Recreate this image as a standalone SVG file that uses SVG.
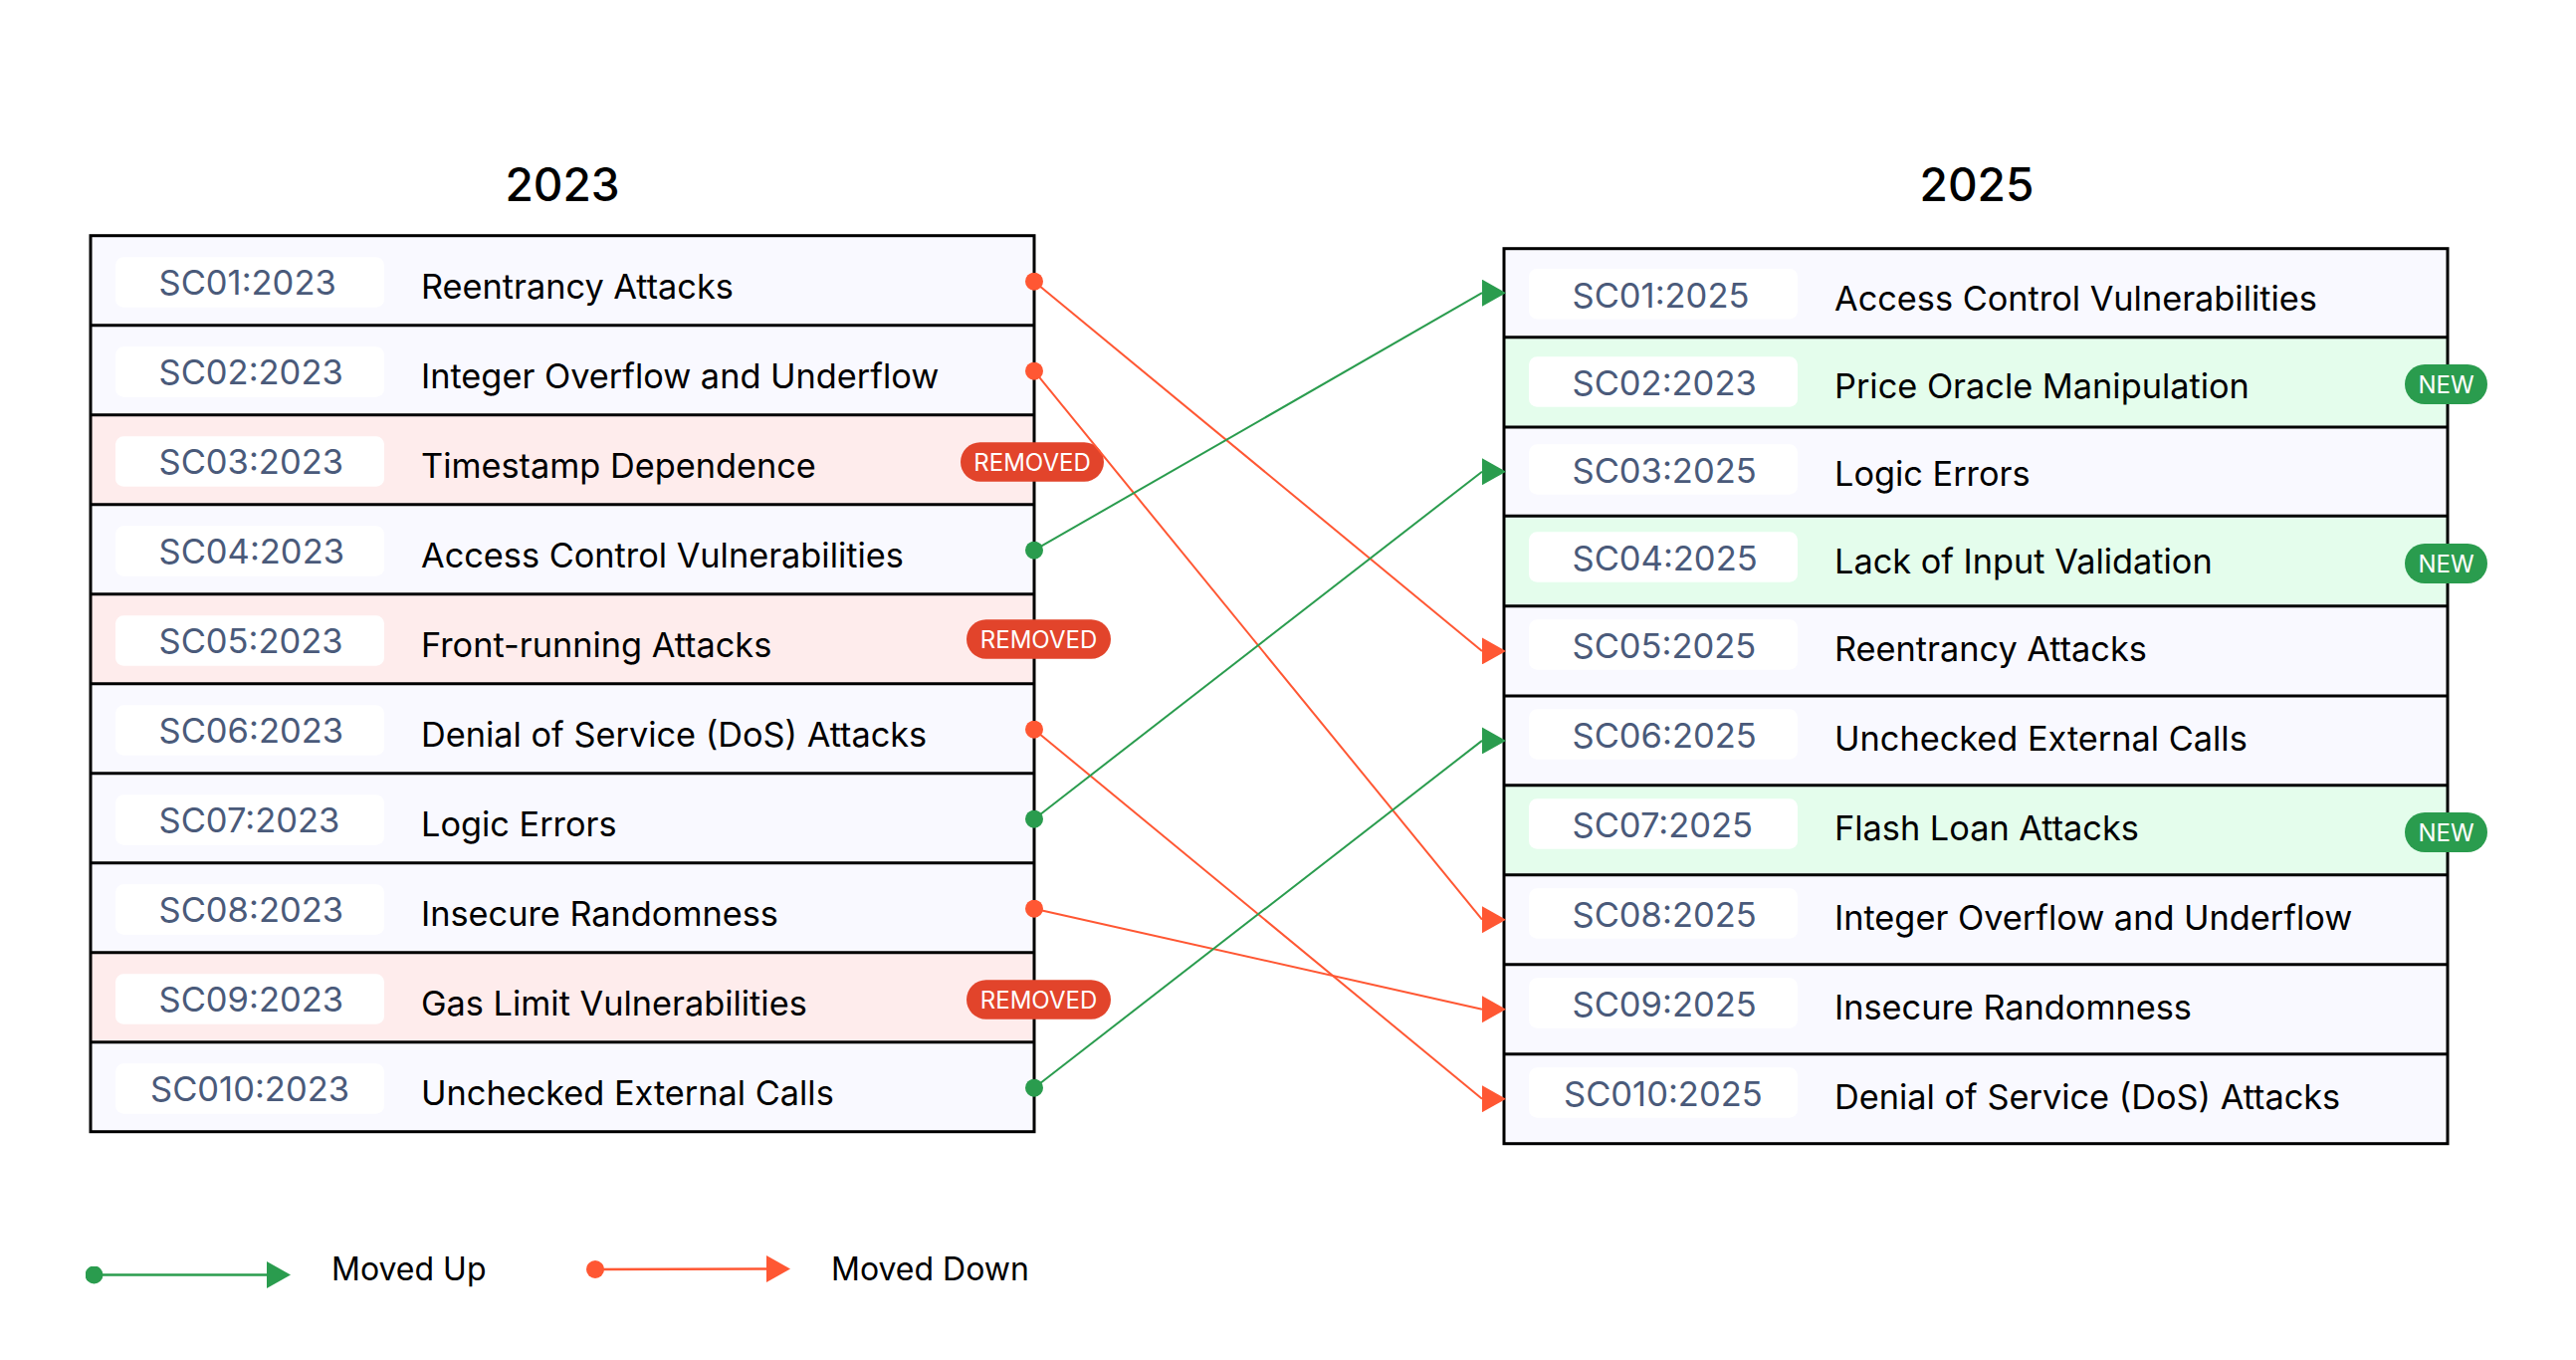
<svg xmlns="http://www.w3.org/2000/svg" width="2588" height="1366" viewBox="0 0 2588 1366">
  <style>
    text { font-family: Inter, "Liberation Sans", sans-serif; }
    .title { font-size: 46px; font-weight: 500; fill: #000; text-anchor: middle; }
    .row-normal { fill: #f9f9ff; }
    .row-removed { fill: #feecec; }
    .row-new { fill: #e4fdec; }
    .code-box { fill: #ffffff; }
    .code { font-size: 34.5px; fill: #4a5a7a; }
    .name { font-size: 34.3px; fill: #000; }
    .grid { stroke: #000; stroke-width: 3; fill: none; }
    .badge-removed { fill: #e2442b; }
    .badge-new { fill: #2a9c4e; }
    .badge-text { font-size: 24px; fill: #fff; text-anchor: middle; }
    .up { stroke: #2a9c4e; stroke-width: 2; fill: none; }
    .down { stroke: #ff5733; stroke-width: 2; fill: none; }
    .legend-up { stroke: #2a9c4e; stroke-width: 2.5; fill: none; }
    .legend-down { stroke: #ff5733; stroke-width: 2.5; fill: none; }
    .legend-text { font-size: 32px; fill: #000; }
  </style>
  <defs>
    <marker id="dot-up" markerUnits="userSpaceOnUse" viewBox="0 0 18 18" refX="9" refY="9" markerWidth="18" markerHeight="18" orient="0">
      <circle cx="9" cy="9" r="9" fill="#2a9c4e"/>
    </marker>
    <marker id="dot-down" markerUnits="userSpaceOnUse" viewBox="0 0 18 18" refX="9" refY="9" markerWidth="18" markerHeight="18" orient="0">
      <circle cx="9" cy="9" r="9" fill="#ff5733"/>
    </marker>
    <marker id="head-up" markerUnits="userSpaceOnUse" viewBox="0 0 24 27" refX="0" refY="13.5" markerWidth="24" markerHeight="27" orient="0">
      <path d="M0,0 L24,13.5 L0,27 Z" fill="#2a9c4e"/>
    </marker>
    <marker id="head-down" markerUnits="userSpaceOnUse" viewBox="0 0 24 27" refX="0" refY="13.5" markerWidth="24" markerHeight="27" orient="0">
      <path d="M0,0 L24,13.5 L0,27 Z" fill="#ff5733"/>
    </marker>
  </defs>

  <rect x="0" y="0" width="2588" height="1366" fill="#ffffff"/>

  <!-- Column headings -->
  <text id="title-2023" class="title" x="565" y="202">2023</text>
  <text id="title-2025" class="title" x="1986" y="202">2025</text>

  <!-- 2023 list -->
  <g id="list-2023">
    <g id="l01">
      <rect class="row-normal" x="91" y="236.7" width="948" height="90"/>
      <rect class="code-box" x="116" y="258.3" width="270" height="50.4" rx="8"/>
      <text class="code" x="159.5" y="296">SC01:2023</text>
      <text class="name" x="423" y="299.5">Reentrancy Attacks</text>
    </g>
    <g id="l02">
      <rect class="row-normal" x="91" y="326.7" width="948" height="90"/>
      <rect class="code-box" x="116" y="348.3" width="270" height="50.4" rx="8"/>
      <text class="code" x="159.5" y="386">SC02:2023</text>
      <text class="name" x="423" y="389.5">Integer Overflow and Underflow</text>
    </g>
    <g id="l03">
      <rect class="row-removed" x="91" y="416.7" width="948" height="90"/>
      <rect class="code-box" x="116" y="438.3" width="270" height="50.4" rx="8"/>
      <text class="code" x="159.5" y="476">SC03:2023</text>
      <text class="name" x="423" y="479.5">Timestamp Dependence</text>
    </g>
    <g id="l04">
      <rect class="row-normal" x="91" y="506.7" width="948" height="90"/>
      <rect class="code-box" x="116" y="528.3" width="270" height="50.4" rx="8"/>
      <text class="code" x="159.5" y="566">SC04:2023</text>
      <text class="name" x="423" y="569.5">Access Control Vulnerabilities</text>
    </g>
    <g id="l05">
      <rect class="row-removed" x="91" y="596.7" width="948" height="90"/>
      <rect class="code-box" x="116" y="618.3" width="270" height="50.4" rx="8"/>
      <text class="code" x="159.5" y="656">SC05:2023</text>
      <text class="name" x="423" y="659.5">Front-running Attacks</text>
    </g>
    <g id="l06">
      <rect class="row-normal" x="91" y="686.7" width="948" height="90"/>
      <rect class="code-box" x="116" y="708.3" width="270" height="50.4" rx="8"/>
      <text class="code" x="159.5" y="746">SC06:2023</text>
      <text class="name" x="423" y="749.5">Denial of Service (DoS) Attacks</text>
    </g>
    <g id="l07">
      <rect class="row-normal" x="91" y="776.7" width="948" height="90"/>
      <rect class="code-box" x="116" y="798.3" width="270" height="50.4" rx="8"/>
      <text class="code" x="159.5" y="836">SC07:2023</text>
      <text class="name" x="423" y="839.5">Logic Errors</text>
    </g>
    <g id="l08">
      <rect class="row-normal" x="91" y="866.7" width="948" height="90"/>
      <rect class="code-box" x="116" y="888.3" width="270" height="50.4" rx="8"/>
      <text class="code" x="159.5" y="926">SC08:2023</text>
      <text class="name" x="423" y="929.5">Insecure Randomness</text>
    </g>
    <g id="l09">
      <rect class="row-removed" x="91" y="956.7" width="948" height="90"/>
      <rect class="code-box" x="116" y="978.3" width="270" height="50.4" rx="8"/>
      <text class="code" x="159.5" y="1016">SC09:2023</text>
      <text class="name" x="423" y="1019.5">Gas Limit Vulnerabilities</text>
    </g>
    <g id="l10">
      <rect class="row-normal" x="91" y="1046.7" width="948" height="90"/>
      <rect class="code-box" x="116" y="1068.3" width="270" height="50.4" rx="8"/>
      <text class="code" x="151" y="1106">SC010:2023</text>
      <text class="name" x="423" y="1109.5">Unchecked External Calls</text>
    </g>
    <g id="grid-2023" class="grid">
      <rect x="91" y="236.7" width="948" height="900"/>
      <path d="M91,326.7H1039 M91,416.7H1039 M91,506.7H1039 M91,596.7H1039 M91,686.7H1039 M91,776.7H1039 M91,866.7H1039 M91,956.7H1039 M91,1046.7H1039"/>
    </g>
    <g id="removed-badges">
      <rect class="badge-removed" x="965" y="444.3" width="144" height="39.5" rx="19.75"/>
      <text class="badge-text" x="1037" y="472.5">REMOVED</text>
      <rect class="badge-removed" x="971" y="622.3" width="145" height="39.5" rx="19.75"/>
      <text class="badge-text" x="1043.5" y="650.5">REMOVED</text>
      <rect class="badge-removed" x="971" y="984.3" width="145" height="39.5" rx="19.75"/>
      <text class="badge-text" x="1043.5" y="1012.5">REMOVED</text>
    </g>
  </g>

  <!-- 2025 list -->
  <g id="list-2025">
    <g id="r01">
      <rect class="row-normal" x="1511" y="249.7" width="948" height="89"/>
      <rect class="code-box" x="1536" y="270" width="270" height="50.4" rx="8"/>
      <text class="code" x="1579.5" y="308.5">SC01:2025</text>
      <text class="name" x="1843" y="312">Access Control Vulnerabilities</text>
    </g>
    <g id="r02">
      <rect class="row-new" x="1511" y="338.7" width="948" height="90.3"/>
      <rect class="code-box" x="1536" y="358.3" width="270" height="50.4" rx="8"/>
      <text class="code" x="1579.5" y="396.8">SC02:2023</text>
      <text class="name" x="1843" y="400.3">Price Oracle Manipulation</text>
    </g>
    <g id="r03">
      <rect class="row-normal" x="1511" y="429" width="948" height="89.3"/>
      <rect class="code-box" x="1536" y="446.3" width="270" height="50.4" rx="8"/>
      <text class="code" x="1579.5" y="484.8">SC03:2025</text>
      <text class="name" x="1843" y="488.3">Logic Errors</text>
    </g>
    <g id="r04">
      <rect class="row-new" x="1511" y="518.3" width="948" height="90.4"/>
      <rect class="code-box" x="1536" y="534.3" width="270" height="50.4" rx="8"/>
      <text class="code" x="1579.5" y="572.8">SC04:2025</text>
      <text class="name" x="1843" y="576.3">Lack of Input Validation</text>
    </g>
    <g id="r05">
      <rect class="row-normal" x="1511" y="608.7" width="948" height="90.3"/>
      <rect class="code-box" x="1536" y="622.3" width="270" height="50.4" rx="8"/>
      <text class="code" x="1579.5" y="660.8">SC05:2025</text>
      <text class="name" x="1843" y="664.3">Reentrancy Attacks</text>
    </g>
    <g id="r06">
      <rect class="row-normal" x="1511" y="699" width="948" height="89.7"/>
      <rect class="code-box" x="1536" y="712.3" width="270" height="50.4" rx="8"/>
      <text class="code" x="1579.5" y="750.8">SC06:2025</text>
      <text class="name" x="1843" y="754.3">Unchecked External Calls</text>
    </g>
    <g id="r07">
      <rect class="row-new" x="1511" y="788.7" width="948" height="90"/>
      <rect class="code-box" x="1536" y="802.3" width="270" height="50.4" rx="8"/>
      <text class="code" x="1579.5" y="840.8">SC07:2025</text>
      <text class="name" x="1843" y="844.3">Flash Loan Attacks</text>
    </g>
    <g id="r08">
      <rect class="row-normal" x="1511" y="878.7" width="948" height="90"/>
      <rect class="code-box" x="1536" y="892.3" width="270" height="50.4" rx="8"/>
      <text class="code" x="1579.5" y="930.8">SC08:2025</text>
      <text class="name" x="1843" y="934.3">Integer Overflow and Underflow</text>
    </g>
    <g id="r09">
      <rect class="row-normal" x="1511" y="968.7" width="948" height="90"/>
      <rect class="code-box" x="1536" y="982.3" width="270" height="50.4" rx="8"/>
      <text class="code" x="1579.5" y="1020.8">SC09:2025</text>
      <text class="name" x="1843" y="1024.3">Insecure Randomness</text>
    </g>
    <g id="r10">
      <rect class="row-normal" x="1511" y="1058.7" width="948" height="90"/>
      <rect class="code-box" x="1536" y="1072.3" width="270" height="50.4" rx="8"/>
      <text class="code" x="1571" y="1110.8">SC010:2025</text>
      <text class="name" x="1843" y="1114.3">Denial of Service (DoS) Attacks</text>
    </g>
    <g id="grid-2025" class="grid">
      <rect x="1511" y="249.7" width="948" height="899"/>
      <path d="M1511,338.7H2459 M1511,429H2459 M1511,518.3H2459 M1511,608.7H2459 M1511,699H2459 M1511,788.7H2459 M1511,878.7H2459 M1511,968.7H2459 M1511,1058.7H2459"/>
    </g>
    <g id="new-badges">
      <rect class="badge-new" x="2416" y="366" width="83" height="40" rx="20"/>
      <text class="badge-text" x="2457.5" y="394.5">NEW</text>
      <rect class="badge-new" x="2416" y="546" width="83" height="40" rx="20"/>
      <text class="badge-text" x="2457.5" y="574.5">NEW</text>
      <rect class="badge-new" x="2416" y="816" width="83" height="40" rx="20"/>
      <text class="badge-text" x="2457.5" y="844.5">NEW</text>
    </g>
  </g>

  <!-- Rank changes between the two lists -->
  <g id="connectors">
    <line id="c-reentrancy" class="down" x1="1039" y1="282.7" x2="1489" y2="653.9" marker-start="url(#dot-down)" marker-end="url(#head-down)"/>
    <line id="c-overflow" class="down" x1="1039" y1="372.7" x2="1489" y2="923.7" marker-start="url(#dot-down)" marker-end="url(#head-down)"/>
    <line id="c-access" class="up" x1="1039" y1="552.7" x2="1489" y2="294.2" marker-start="url(#dot-up)" marker-end="url(#head-up)"/>
    <line id="c-dos" class="down" x1="1039" y1="732.7" x2="1489" y2="1103.7" marker-start="url(#dot-down)" marker-end="url(#head-down)"/>
    <line id="c-logic" class="up" x1="1039" y1="822.7" x2="1489" y2="473.7" marker-start="url(#dot-up)" marker-end="url(#head-up)"/>
    <line id="c-random" class="down" x1="1039" y1="912.7" x2="1489" y2="1013.7" marker-start="url(#dot-down)" marker-end="url(#head-down)"/>
    <line id="c-calls" class="up" x1="1039" y1="1092.7" x2="1489" y2="743.9" marker-start="url(#dot-up)" marker-end="url(#head-up)"/>
  </g>

  <!-- Legend -->
  <g id="legend">
    <line class="legend-up" x1="94.5" y1="1280.5" x2="268" y2="1280.5" marker-start="url(#dot-up)" marker-end="url(#head-up)"/>
    <text class="legend-text" x="333" y="1286">Moved Up</text>
    <line class="legend-down" x1="598" y1="1275" x2="770" y2="1274.5" marker-start="url(#dot-down)" marker-end="url(#head-down)"/>
    <text class="legend-text" x="835" y="1286">Moved Down</text>
  </g>
</svg>
